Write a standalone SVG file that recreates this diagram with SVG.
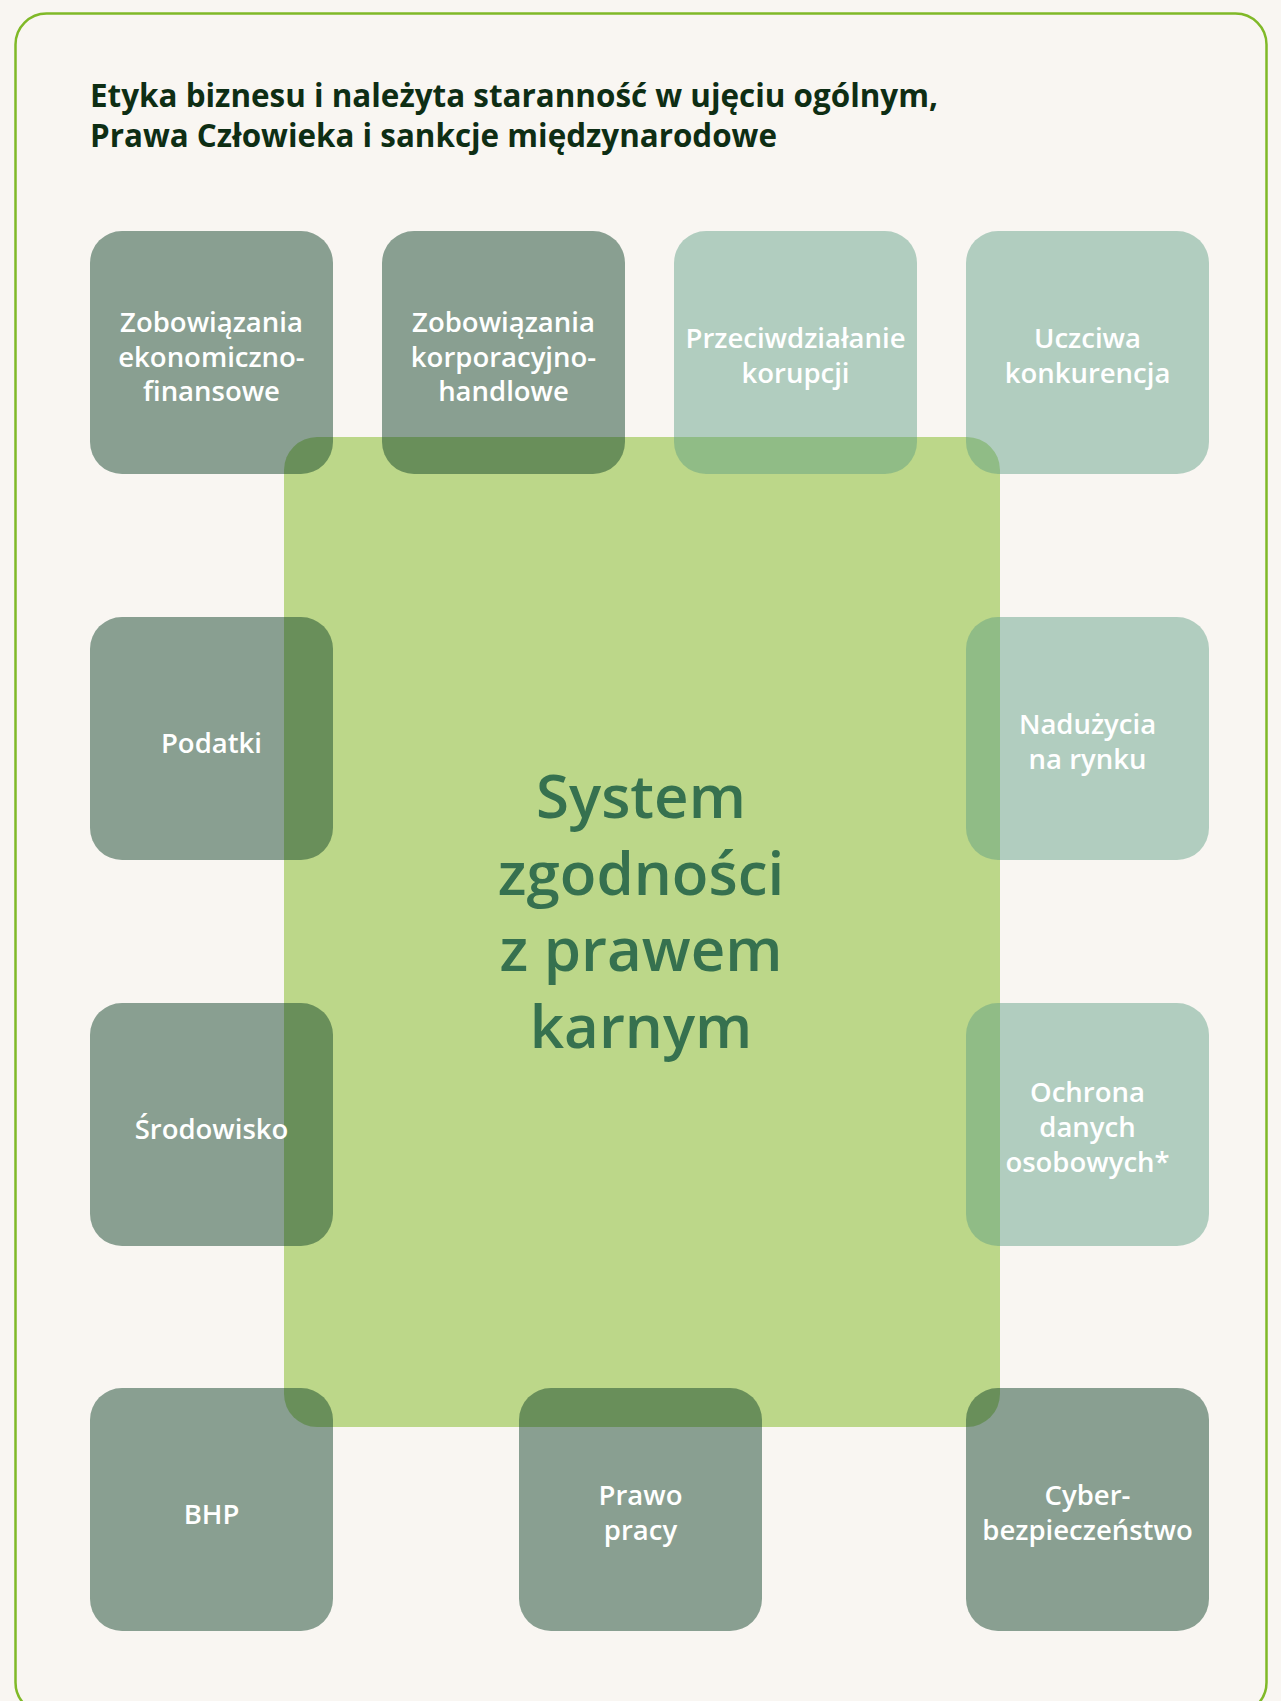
<svg xmlns="http://www.w3.org/2000/svg" width="1281" height="1701" viewBox="0 0 1281 1701">
  <style>
    .bg { fill: #f9f6f2; }
    .frame { fill: #f9f6f2; stroke: #80b928; stroke-width: 2.5; }
    .title { font-family: "Open Sans", "Noto Sans", sans-serif; font-weight: 700; font-size: 33px; fill: #0e2e14; }
    .core { fill: #bcd789; }
    .core-text { font-family: "Open Sans", "Noto Sans", sans-serif; font-weight: 600; font-size: 60px; fill: #36714f; text-anchor: middle; }
    .dark { fill: rgb(14,65,40); fill-opacity: 0.48; }
    .light { fill: rgb(92,157,131); fill-opacity: 0.46; }
    .label { font-family: "Open Sans", "Noto Sans", sans-serif; font-weight: 600; font-size: 27.5px; fill: #ffffff; text-anchor: middle; }
  </style>
  <rect class="bg" x="0" y="0" width="1281" height="1701"/>
  <rect class="frame" x="15.5" y="13.5" width="1251" height="1700" rx="31"/>

  <g id="title">
    <text class="title" x="90" y="107" textLength="848" lengthAdjust="spacingAndGlyphs">Etyka biznesu i należyta staranność w ujęciu ogólnym,</text>
    <text class="title" x="90" y="147" textLength="687" lengthAdjust="spacingAndGlyphs">Prawa Człowieka i sankcje międzynarodowe</text>
  </g>

  <g id="core">
    <rect class="core" x="284" y="437" width="716" height="990" rx="33"/>
    <text class="core-text" x="641" y="818">System</text>
    <text class="core-text" x="641" y="895">zgodności</text>
    <text class="core-text" x="641" y="971">z prawem</text>
    <text class="core-text" x="641" y="1048">karnym</text>
  </g>

  <g id="connectors"></g>

  <g id="n-ekon">
    <rect class="dark" x="90" y="231" width="243" height="243" rx="32"/>
    <text class="label" x="211.5" y="332">Zobowiązania</text>
    <text class="label" x="211.5" y="367">ekonomiczno-</text>
    <text class="label" x="211.5" y="401">finansowe</text>
  </g>
  <g id="n-korp">
    <rect class="dark" x="382" y="231" width="243" height="243" rx="32"/>
    <text class="label" x="503.5" y="332">Zobowiązania</text>
    <text class="label" x="503.5" y="367">korporacyjno-</text>
    <text class="label" x="503.5" y="401">handlowe</text>
  </g>
  <g id="n-korupcja">
    <rect class="light" x="674" y="231" width="243" height="243" rx="32"/>
    <text class="label" x="795.5" y="348">Przeciwdziałanie</text>
    <text class="label" x="795.5" y="383">korupcji</text>
  </g>
  <g id="n-konkurencja">
    <rect class="light" x="966" y="231" width="243" height="243" rx="32"/>
    <text class="label" x="1087.5" y="348">Uczciwa</text>
    <text class="label" x="1087.5" y="383">konkurencja</text>
  </g>
  <g id="n-podatki">
    <rect class="dark" x="90" y="617" width="243" height="243" rx="32"/>
    <text class="label" x="211.5" y="753">Podatki</text>
  </g>
  <g id="n-naduzycia">
    <rect class="light" x="966" y="617" width="243" height="243" rx="32"/>
    <text class="label" x="1087.5" y="734">Nadużycia</text>
    <text class="label" x="1087.5" y="769">na rynku</text>
  </g>
  <g id="n-srodowisko">
    <rect class="dark" x="90" y="1003" width="243" height="243" rx="32"/>
    <text class="label" x="211.5" y="1139">Środowisko</text>
  </g>
  <g id="n-ochrona">
    <rect class="light" x="966" y="1003" width="243" height="243" rx="32"/>
    <text class="label" x="1087.5" y="1102">Ochrona</text>
    <text class="label" x="1087.5" y="1137">danych</text>
    <text class="label" x="1087.5" y="1172">osobowych*</text>
  </g>
  <g id="n-bhp">
    <rect class="dark" x="90" y="1388" width="243" height="243" rx="32"/>
    <text class="label" x="211.5" y="1524">BHP</text>
  </g>
  <g id="n-prawo-pracy">
    <rect class="dark" x="519" y="1388" width="243" height="243" rx="32"/>
    <text class="label" x="640.5" y="1505">Prawo</text>
    <text class="label" x="640.5" y="1540">pracy</text>
  </g>
  <g id="n-cyber">
    <rect class="dark" x="966" y="1388" width="243" height="243" rx="32"/>
    <text class="label" x="1087.5" y="1505">Cyber-</text>
    <text class="label" x="1087.5" y="1540">bezpieczeństwo</text>
  </g>
</svg>
